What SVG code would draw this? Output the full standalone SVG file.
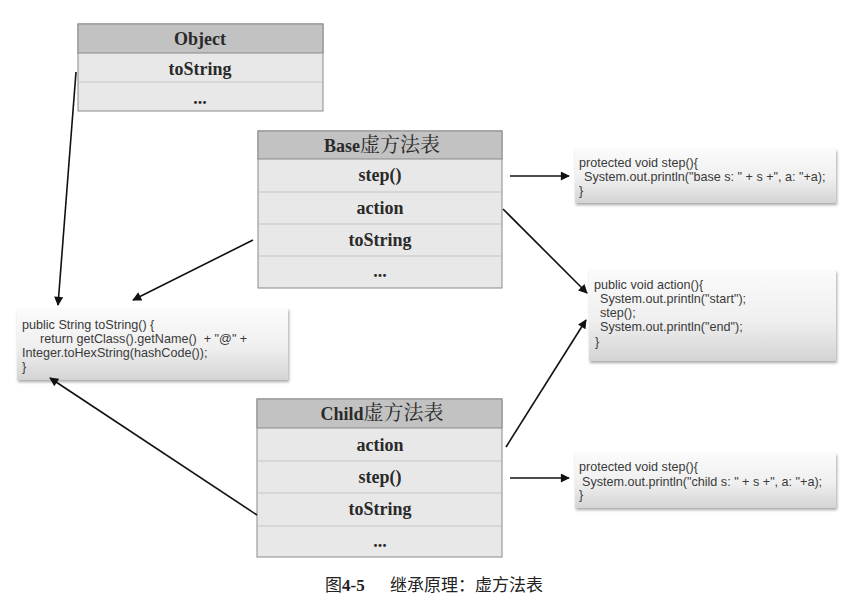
<svg xmlns="http://www.w3.org/2000/svg" width="861" height="603" viewBox="0 0 861 603">
<defs>
<linearGradient id="codeGrad" x1="0" y1="0" x2="0" y2="1">
<stop offset="0" stop-color="#fbfbfb"/>
<stop offset="0.55" stop-color="#efefef"/>
<stop offset="1" stop-color="#d4d4d4"/>
</linearGradient>
<filter id="shadow" x="-10%" y="-20%" width="125%" height="150%">
<feDropShadow dx="1" dy="2" stdDeviation="1.6" flood-color="#000" flood-opacity="0.35"/>
</filter>
<marker id="arrow" viewBox="0 0 10 10" refX="9" refY="5" markerWidth="10" markerHeight="9" markerUnits="userSpaceOnUse" orient="auto">
<path d="M0,0 L10,5 L0,10 z" fill="#111"/>
</marker>
<style>
.hdr{fill:#c2c2c2;stroke:#8a8a8a;stroke-width:1}
.row{fill:#e8e8e8;stroke:#8a8a8a;stroke-width:1}
.div{stroke:#c4c4c4;stroke-width:1}
.tt{font-family:"Liberation Serif","Noto Serif CJK SC","Noto Sans CJK SC",serif;font-size:18px;font-weight:bold;fill:#2a2a2a;text-anchor:middle}
.th{font-size:18px}
.cj{font-size:20px;font-weight:normal}
.code{fill:url(#codeGrad);filter:url(#shadow)}
.ct{font-family:"Liberation Sans",Arial,sans-serif;font-size:12.6px;fill:#3a3a3a;white-space:pre}
.conn{stroke:#111;stroke-width:1.6;fill:none;marker-end:url(#arrow)}
.cap{font-family:"Liberation Serif","Noto Sans CJK SC",serif;font-size:17px;fill:#222}
</style>
</defs>
<rect width="861" height="603" fill="#fff"/>

<g id="object-table">
<rect class="row" x="78" y="24" width="245" height="87"/>
<rect class="hdr" x="78" y="24" width="245" height="29"/>
<line class="div" x1="79" y1="82" x2="322" y2="82"/>
<text class="tt th" x="200" y="45">Object</text>
<text class="tt" x="200" y="75">toString</text>
<text class="tt" x="200" y="104">...</text>
</g>

<g id="base-table">
<rect class="row" x="258" y="131" width="244" height="157"/>
<rect class="hdr" x="258" y="131" width="244" height="28"/>
<line class="div" x1="259" y1="192" x2="501" y2="192"/>
<line class="div" x1="259" y1="224" x2="501" y2="224"/>
<line class="div" x1="259" y1="256" x2="501" y2="256"/>
<text class="tt th" x="382" y="152">Base<tspan class="cj">虚方法表</tspan></text>
<text class="tt" x="380" y="181">step()</text>
<text class="tt" x="380" y="214">action</text>
<text class="tt" x="380" y="246">toString</text>
<text class="tt" x="380" y="277">...</text>
</g>

<g id="child-table">
<rect class="row" x="257" y="399" width="245" height="158"/>
<rect class="hdr" x="257" y="399" width="245" height="29"/>
<line class="div" x1="258" y1="461" x2="501" y2="461"/>
<line class="div" x1="258" y1="493" x2="501" y2="493"/>
<line class="div" x1="258" y1="526" x2="501" y2="526"/>
<text class="tt th" x="382" y="420">Child<tspan class="cj">虚方法表</tspan></text>
<text class="tt" x="380" y="451">action</text>
<text class="tt" x="380" y="483">step()</text>
<text class="tt" x="380" y="515">toString</text>
<text class="tt" x="380" y="547">...</text>
</g>

<g id="base-step-code">
<rect class="code" x="575" y="149" width="261" height="54"/>
<text class="ct" x="579" y="167">protected void step(){</text>
<text class="ct" x="584" y="181">System.out.println("base s: " + s +", a: "+a);</text>
<text class="ct" x="579" y="195">}</text>
</g>

<g id="action-code">
<rect class="code" x="589" y="270" width="247" height="91"/>
<text class="ct" x="594" y="289">public void action(){</text>
<text class="ct" x="600" y="303">System.out.println("start");</text>
<text class="ct" x="600" y="317">step();</text>
<text class="ct" x="600" y="331">System.out.println("end");</text>
<text class="ct" x="595" y="346">}</text>
</g>

<g id="tostring-code">
<rect class="code" x="17" y="308" width="271" height="72"/>
<text class="ct" x="22" y="329">public String toString() {</text>
<text class="ct" x="40" y="343">return getClass().getName()  + "@" +</text>
<text class="ct" x="22" y="357">Integer.toHexString(hashCode());</text>
<text class="ct" x="22" y="371">}</text>
</g>

<g id="child-step-code">
<rect class="code" x="575" y="453" width="261" height="55"/>
<text class="ct" x="579" y="471">protected void step(){</text>
<text class="ct" x="582" y="486">System.out.println("child s: " + s +", a: "+a);</text>
<text class="ct" x="579" y="499">}</text>
</g>

<g id="connectors">
<line class="conn" x1="76" y1="72" x2="58" y2="305"/>
<line class="conn" x1="253" y1="240" x2="133" y2="300"/>
<line class="conn" x1="510" y1="176" x2="569" y2="176"/>
<line class="conn" x1="503" y1="209" x2="587" y2="293"/>
<line class="conn" x1="506" y1="447" x2="586" y2="320"/>
<line class="conn" x1="510" y1="478" x2="569" y2="478"/>
<line class="conn" x1="257" y1="515" x2="50" y2="378"/>
</g>

<g id="caption">
<text class="cap" x="325" y="591">图<tspan font-weight="bold">4-5</tspan></text>
<text class="cap" x="390" y="591">继承原理：虚方法表</text>
</g>
</svg>
